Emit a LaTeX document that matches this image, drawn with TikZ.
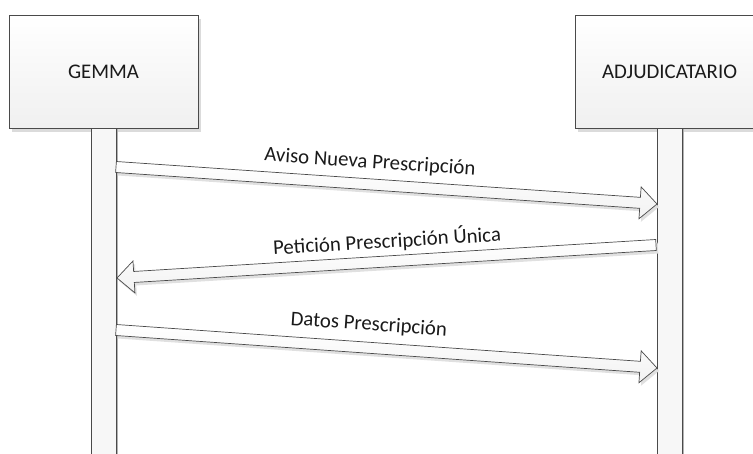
\documentclass[tikz,border=0pt]{standalone}
\usepackage{fontspec}
\setmainfont{Carlito}
\usetikzlibrary{calc}
\definecolor{edge}{HTML}{4A4A4A}
\definecolor{txt}{HTML}{1A1A1A}
\tikzset{
  actor/.style={draw=edge, line width=0.8pt, top color=white, bottom color=black!6,
    minimum width=189pt, minimum height=113pt, inner sep=0pt,
    font=\fontsize{20.8}{24}\selectfont, text=txt,
    preaction={fill=black!14, transform canvas={xshift=3pt, yshift=-4pt}}},
  lifeline/.style={draw=edge, line width=0.8pt, fill=black!3,
    minimum width=25pt, minimum height=335pt, inner sep=0pt,
    preaction={fill=black!30, transform canvas={xshift=2pt}}},
  msgbody/.style={draw=edge, line width=0.7pt, top color=white, bottom color=black!5,
    line join=miter,
    preaction={fill=black!12, transform canvas={xshift=2pt, yshift=-3pt}}},
  msglabel/.style={font=\fontsize{20.8}{24}\selectfont, text=txt, anchor=base, inner sep=0pt}
}
\newcommand\msgarrow[2]{%
  \path coordinate (hb) at ($(#2)!17pt!(#1)$);
  \path[msgbody] ($(#1)!5.5pt!90:(#2)$) -- ($(hb)!5.5pt!90:(#2)$) -- ($(hb)!16pt!90:(#2)$)
    -- (#2) -- ($(hb)!16pt!-90:(#2)$) -- ($(hb)!5.5pt!-90:(#2)$) -- ($(#1)!5.5pt!-90:(#2)$) -- cycle;
}
\begin{document}
\begin{tikzpicture}[x=1pt, y=1pt]
\useasboundingbox (0,0) rectangle (753,453);
\clip (0,0) rectangle (753,453);
% actors
\node[actor] (gemma) at (103.5,381.5) {GEMMA};
\node[actor] (adj) at (669.5,381.5) {ADJUDICATARIO};
% lifelines
\node[lifeline, anchor=north] (gl) at (gemma.south) {};
\node[lifeline, anchor=north] (al) at (adj.south) {};
% message end points
\coordinate (m1a) at (116,286);
\coordinate (m1b) at (657,249);
\coordinate (m2a) at (656,208);
\coordinate (m2b) at (117,175);
\coordinate (m3a) at (116,123);
\coordinate (m3b) at (657,85);
% messages
\msgarrow{m1a}{m1b}
\msgarrow{m2a}{m2b}
\msgarrow{m3a}{m3b}
% labels
\node[msglabel, rotate=-3.9] (l1) at (369.5,285) {Aviso Nueva Prescripción};
\node[msglabel, rotate=3.5] (l2) at (387.5,205) {Petición Prescripción Única};
\node[msglabel, rotate=-4.0] (l3) at (368.5,122.5) {Datos Prescripción};
\end{tikzpicture}
\end{document}
